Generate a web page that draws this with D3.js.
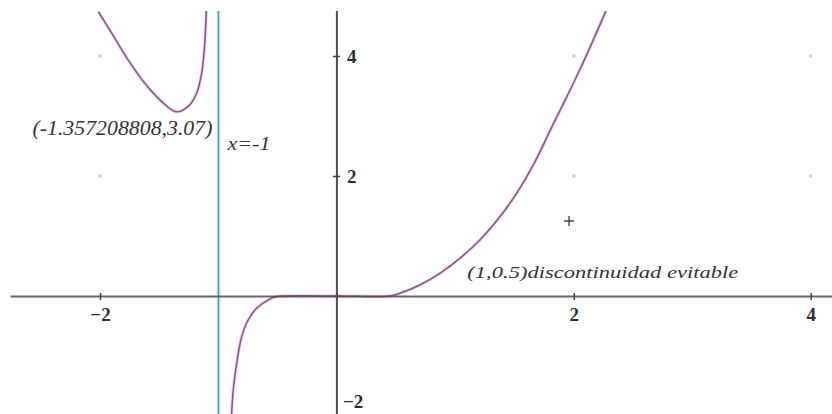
<!DOCTYPE html>
<html>
<head>
<meta charset="utf-8">
<script src="https://cdn.jsdelivr.net/npm/d3@7"></script>
<style>
  html, body { margin: 0; padding: 0; background: #ffffff; }
  svg { display: block; }
</style>
</head>
<body>
<svg id="chart" width="832" height="414"></svg>
<script>
// Tick values for both axes
const xTickValues = [-2, 2, 4];
const yTickValues = [4, 2, -2];
const gridX = [-2, 0, 2, 4];
const gridY = [4, 2, -2];

// Branch left of the vertical asymptote x = -1 (local minimum near x = -1.357)
const leftBranch = [
  [-2.014, 4.74], [-1.901, 4.38], [-1.761, 3.93], [-1.620, 3.54],
  [-1.479, 3.24], [-1.357, 3.07], [-1.255, 3.16], [-1.184, 3.38],
  [-1.142, 3.71], [-1.120, 4.10], [-1.108, 4.49], [-1.103, 4.76]
];

// Branch right of the asymptote, through the flat stretch and up past x = 2
const rightBranch = [
  [-0.893, -2.10], [-0.889, -1.955], [-0.875, -1.567], [-0.846, -1.12],
  [-0.804, -0.68], [-0.749, -0.40], [-0.678, -0.205], [-0.593, -0.08],
  [-0.509, -0.01], [-0.424, 0.0], [0.0, 0.0], [0.447, 0.0],
  [0.532, 0.045], [0.700, 0.183], [0.869, 0.378], [1.038, 0.628],
  [1.207, 0.933], [1.376, 1.32], [1.517, 1.71], [1.657, 2.18],
  [1.825, 2.86], [1.938, 3.31], [2.051, 3.77],
  [2.163, 4.26], [2.262, 4.71], [2.275, 4.78]
];

// Vertical asymptote
const asymptoteX = -1;

// Point marker
const markers = [[1.96, 1.25]];

// Text annotations
const minLabel = "(-1.357208808,3.07)";
const asymptoteLabel = "x=-1";
const holeLabel = "(1,0.5)discontinuidad evitable";

const W = 832, H = 414;
const svg = d3.select("#chart");
const serif = "'Liberation Serif', 'Times New Roman', Times, serif";

const x = d3.scaleLinear().domain([-2.76, 4.18]).range([10, 832]);
const y = d3.scaleLinear().domain([4.75, -1.967]).range([11, 414]);

svg.append("defs").append("clipPath").attr("id", "plot")
  .append("rect").attr("x", 10).attr("y", 11).attr("width", 822).attr("height", 403);

const plot = svg.append("g").attr("clip-path", "url(#plot)");

// faint grid marks
gridX.forEach(gx => gridY.forEach(gy => {
  if (gx === 0) return;
  const px = x(gx), py = y(gy);
  plot.append("path")
    .attr("d", `M${px - 2},${py}H${px + 2}M${px},${py - 2}V${py + 2}`)
    .attr("stroke", "#c8c8c8").attr("stroke-width", 1.2);
}));

// curve
const line = d3.line()
  .x(d => x(d[0])).y(d => y(d[1]))
  .curve(d3.curveCatmullRom.alpha(0.5));

[leftBranch, rightBranch].forEach(branch => {
  plot.append("path").datum(branch)
    .attr("d", line)
    .attr("fill", "none")
    .attr("stroke", "#ecd6ea").attr("stroke-width", 3.4);
  plot.append("path").datum(branch)
    .attr("d", line)
    .attr("fill", "none")
    .attr("stroke", "#7e5a7e").attr("stroke-width", 1.5);
});

// asymptote
plot.append("line")
  .attr("x1", x(asymptoteX)).attr("x2", x(asymptoteX))
  .attr("y1", 11).attr("y2", H)
  .attr("stroke", "#d6eef0").attr("stroke-width", 4);
plot.append("line")
  .attr("x1", x(asymptoteX)).attr("x2", x(asymptoteX))
  .attr("y1", 11).attr("y2", H)
  .attr("stroke", "#4f9aa3").attr("stroke-width", 1.5);

// axes
const fmt = d => d < 0 ? "\u2212" + Math.abs(d) : String(d);

const xAxis = d3.axisBottom(x)
  .tickValues(xTickValues)
  .tickSizeInner(3).tickSizeOuter(0).tickPadding(9)
  .tickFormat(fmt);

const gx = svg.append("g")
  .attr("transform", `translate(0,${y(0)})`)
  .call(xAxis);
gx.select(".domain").attr("stroke", "#4e4e4e").attr("stroke-width", 2).attr("opacity", 0.85);
gx.selectAll(".tick line").attr("y1", -3).attr("y2", 4).attr("stroke", "#444").attr("stroke-width", 1.5);
gx.selectAll(".tick text")
  .attr("font-family", serif)
  .attr("font-weight", "bold").attr("font-size", 19).attr("fill", "#2e2e2e");

const yAxis = d3.axisRight(y)
  .tickValues(yTickValues)
  .tickSizeInner(3).tickSizeOuter(0).tickPadding(7)
  .tickFormat(fmt);

const gy = svg.append("g")
  .attr("transform", `translate(${x(0)},0)`)
  .call(yAxis);
gy.select(".domain").attr("d", `M0,11V${H}`)
  .attr("stroke", "#4e4e4e").attr("stroke-width", 2);
gy.selectAll(".tick line").attr("x1", -4).attr("x2", 3).attr("stroke", "#444").attr("stroke-width", 1.5);
gy.selectAll(".tick text")
  .attr("font-family", serif)
  .attr("font-weight", "bold").attr("font-size", 19).attr("fill", "#2e2e2e");
// lowest label sits at the bottom edge; lift it so it stays inside the frame
gy.selectAll(".tick").filter(d => d < 0).select("text")
  .attr("dx", -4).attr("dy", -8);

// marker cross
markers.forEach(([mx, my]) => {
  const px = x(mx), py = y(my);
  svg.append("path")
    .attr("d", `M${px - 5},${py}H${px + 5}M${px},${py - 5}V${py + 5}`)
    .attr("stroke", "#444").attr("stroke-width", 1.4);
});

// annotations
svg.append("text")
  .attr("x", x(asymptoteX) - 6).attr("y", y(3.07) + 23)
  .attr("text-anchor", "end")
  .attr("font-family", serif).attr("font-style", "italic")
  .attr("font-size", 20).attr("fill", "#333")
  .attr("textLength", 180).attr("lengthAdjust", "spacingAndGlyphs")
  .text(minLabel);

svg.append("text")
  .attr("x", x(asymptoteX) + 9).attr("y", y(3.07) + 38)
  .attr("font-family", serif).attr("font-style", "italic")
  .attr("font-size", 19).attr("fill", "#333")
  .attr("textLength", 43).attr("lengthAdjust", "spacingAndGlyphs")
  .text(asymptoteLabel);

svg.append("text")
  .attr("x", x(1) + 12).attr("y", y(0.5) + 12)
  .attr("font-family", serif).attr("font-style", "italic")
  .attr("font-size", 17).attr("fill", "#333")
  .attr("textLength", 271).attr("lengthAdjust", "spacingAndGlyphs")
  .text(holeLabel);
</script>
</body>
</html>
